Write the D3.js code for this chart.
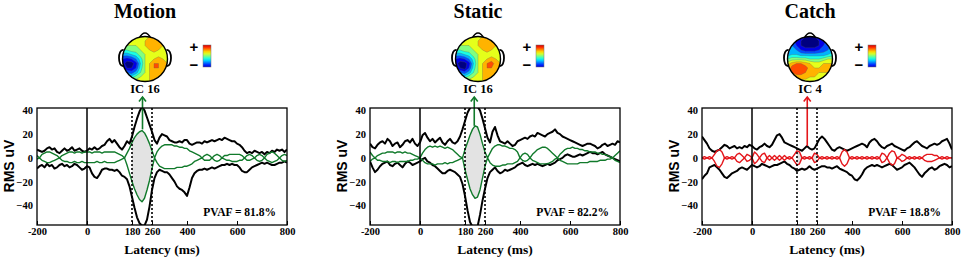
<!DOCTYPE html>
<html>
<head>
<meta charset="utf-8">
<script src="https://cdn.jsdelivr.net/npm/d3@7"></script>
<style>
  body { margin: 0; background: #fff; }
</style>
</head>
<body>
<div id="chart"></div>
<script>
// sample grid of the envelopes, ms (every 10 ms)
const latency = d3.range(-200, 801, 10);

const titles = ["Motion", "Static", "Catch"];
const icLabels = ["IC 16", "IC 16", "IC 4"];
const pvafLabels = ["PVAF = 81.8%", "PVAF = 82.2%", "PVAF = 18.8%"];
const xTicks = [-200, 0, 180, 260, 400, 600, 800];
const yTicks = [40, 20, 0, -20, -40];
const windowMs = [180, 260];
const arrowMs = [222, 217, 221];
const arrowBase = [24, 27, 10];

// data envelope (black) - rows of 100 ms
const motionUp = [
  7, 6, 5, 6, 8, 9, 7, 8, 5, 4,
  6, 8, 6, 7, 9, 6, 7, 8, 6, 5,
  6, 8, 7, 9, 7, 8, 10, 11, 14, 16,
  13, 15, 12, 9, 7, 10, 14, 12, 18, 26,
  33, 39, 43, 40, 34, 28, 22, 15, 12, 17,
  20, 19, 18, 15, 14, 13, 13, 14, 13, 15,
  15, 12, 11, 12, 13, 13, 12, 14, 13, 14,
  15, 14, 15, 16, 15, 17, 16, 15, 14, 14,
  12, 11, 9, 6, 4, 5, 4, 6, 5, 4,
  5, 3, 5, 4, 6, 5, 7, 6, 7, 5,
  7];
const motionLo = [
  -9, -7, -6, -8, -5, -7, -6, -9, -8, -6,
  -5, -7, -6, -8, -7, -5, -6, -8, -10, -9,
  -7, -8, -13, -16, -17, -14, -10, -9, -9, -10,
  -10, -11, -10, -12, -15, -16, -18, -24, -33, -42,
  -50, -55, -57, -57, -52, -41, -27, -17, -12, -10,
  -11, -12, -12, -14, -17, -20, -24, -26, -27, -29,
  -32, -25, -17, -13, -11, -10, -10, -9, -10, -9,
  -8, -9, -8, -7, -6, -6, -5, -6, -5, -6,
  -6, -8, -11, -12, -12, -10, -8, -7, -6, -5,
  -4, -5, -4, -5, -6, -6, -5, -4, -4, -3,
  -4];
// component envelope (green)
const motionCU = [
  2, 0, 3, 4, 5, 5, 4, 3, 2, 0,
  2, 3, 4, 5, 5, 4, 5, 5, 4, 5,
  5, 5, 4, 5, 5, 5, 4, 5, 5, 5,
  5, 5, 4, 3, 2, 0, 4, 8, 13, 17,
  20, 22, 23, 21, 17, 12, 6, 0, 5, 8,
  10, 11, 11, 11, 11, 10, 10, 9, 9, 8,
  8, 6, 5, 4, 3, 2, 0, 2, 3, 2,
  0, 2, 3, 2, 0, 2, 2, 3, 3, 3,
  3, 3, 2, 0, 2, 3, 2, 0, 2, 3,
  2, 0, 3, 4, 5, 4, 2, 0, 2, 3,
  2];
const motionCL = [
  -1, 0, -2, -3, -4, -4, -3, -2, -1, 0,
  -2, -3, -3, -4, -4, -3, -4, -4, -3, -4,
  -4, -4, -4, -4, -3, -4, -4, -3, -4, -4,
  -4, -4, -3, -2, -1, 0, -6, -13, -20, -26,
  -31, -35, -37, -34, -27, -19, -9, 0, -4, -7,
  -8, -9, -9, -9, -9, -9, -8, -8, -8, -7,
  -7, -6, -5, -3, -2, -1, 0, -2, -2, -2,
  0, -2, -3, -2, 0, -1, -2, -2, -3, -3,
  -3, -2, -2, 0, -2, -2, -1, 0, -2, -3,
  -2, 0, -2, -3, -4, -3, -2, 0, -2, -3,
  -2];

const staticUp = [
  12, 9, 8, 11, 13, 14, 12, 16, 14, 10,
  12, 13, 9, 11, 14, 15, 13, 16, 12, 10,
  13, 19, 21, 17, 14, 16, 13, 15, 17, 13,
  11, 14, 16, 13, 12, 14, 18, 24, 31, 38,
  42, 44, 44, 43, 40, 33, 25, 17, 13, 22,
  26, 19, 14, 13, 12, 14, 12, 10, 11, 14,
  15, 16, 17, 16, 18, 19, 18, 21, 20, 19,
  18, 20, 21, 22, 24, 21, 20, 18, 17, 16,
  15, 14, 13, 12, 11, 10, 11, 12, 12, 11,
  10, 8, 9, 11, 12, 10, 11, 12, 11, 14,
  13];
const staticLo = [
  -3, -8, -12, -10, -7, -5, -4, -3, -6, -7,
  -5, -4, -6, -8, -5, -3, -4, -6, -5, -4,
  -3, -1, 0, -3, -4, -6, -7, -9, -11, -13,
  -13, -11, -10, -11, -12, -14, -16, -22, -32, -44,
  -54, -58, -58, -58, -48, -36, -26, -17, -12, -10,
  -8, -11, -13, -12, -10, -11, -10, -9, -8, -6,
  -5, -4, -6, -7, -6, -5, -6, -5, -6, -7,
  -6, -5, -6, -5, -4, -2, -1, 0, 2, 3,
  2, 1, 1, 2, 3, 2, 3, 4, 5, 4,
  4, 3, 4, 5, 3, 2, 1, 0, -1, -2,
  -3];
const staticCU = [
  5, 2, 0, 2, 3, 4, 4, 5, 5, 5,
  4, 5, 5, 4, 5, 4, 4, 3, 2, 1,
  0, 4, 7, 9, 10, 9, 10, 9, 10, 9,
  8, 9, 8, 7, 5, 3, 1, 0, 7, 13,
  19, 24, 27, 26, 20, 12, 5, 0, 4, 8,
  10, 11, 11, 10, 10, 9, 8, 8, 7, 5,
  0, 3, 4, 3, 0, 3, 5, 7, 8, 9,
  9, 8, 6, 4, 2, 0, 3, 5, 7, 8,
  8, 9, 8, 8, 7, 7, 6, 6, 5, 5,
  5, 4, 4, 3, 3, 2, 1, 0, 2, 4,
  6];
const staticCL = [
  -3, -1, 0, -2, -2, -3, -3, -3, -4, -3,
  -3, -4, -3, -3, -3, -3, -2, -2, -1, -1,
  0, -2, -4, -5, -5, -5, -6, -5, -5, -5,
  -4, -5, -4, -4, -3, -2, -1, 0, -10, -18,
  -26, -31, -34, -33, -27, -17, -7, 0, -4, -6,
  -7, -7, -7, -6, -6, -5, -5, -5, -4, -3,
  0, -2, -3, -2, 0, -2, -3, -4, -5, -5,
  -5, -5, -4, -3, -1, 0, -2, -3, -4, -5,
  -5, -5, -5, -5, -4, -4, -4, -4, -3, -3,
  -3, -3, -2, -2, -2, -1, -1, 0, -2, -3,
  -4];

const catchUp = [
  18, 15, 12, 8, 6, 5, 6, 7, 9, 11,
  10, 8, 9, 10, 8, 9, 8, 10, 9, 11,
  10, 8, 7, 9, 10, 12, 10, 9, 11, 15,
  19, 20, 17, 13, 12, 11, 10, 9, 8, 7,
  6, 8, 10, 8, 7, 8, 12, 16, 18, 16,
  13, 10, 7, 6, 8, 9, 8, 7, 6, 7,
  8, 9, 10, 11, 12, 11, 9, 13, 15, 16,
  14, 11, 9, 8, 10, 11, 12, 10, 9, 8,
  7, 6, 8, 9, 11, 13, 14, 12, 10, 9,
  8, 10, 11, 12, 11, 12, 14, 15, 16, 12,
  7];
const catchLo = [
  -18, -15, -13, -8, -7, -6, -8, -10, -13, -16,
  -17, -15, -13, -12, -11, -9, -8, -9, -10, -8,
  -6, -7, -8, -7, -5, -6, -7, -8, -7, -6,
  -6, -5, -4, -3, -5, -6, -8, -9, -11, -10,
  -9, -10, -9, -7, -9, -10, -9, -8, -7, -7,
  -8, -8, -9, -8, -7, -9, -10, -11, -12, -14,
  -15, -18, -19, -17, -14, -10, -8, -7, -6, -7,
  -6, -7, -8, -7, -6, -5, -6, -8, -10, -9,
  -8, -6, -5, -4, -6, -8, -11, -14, -16, -13,
  -11, -9, -8, -10, -9, -7, -6, -5, -6, -8,
  -7];
// component envelope (red)
const catchCU = [
  0, 1, 0, 1, 0, 3, 6, 7, 5, 0,
  1, 0, 1, 0, 3, 4, 2, 0, 3, 2,
  0, 5, 3, 0, 3, 4, 0, 2, 0, 2,
  0, 2, 0, 2, 0, 1, 0, 3, 6, 5,
  0, 1, 0, 1, 0, 4, 3, 0, 1, 0,
  1, 0, 1, 0, 1, 0, 5, 7, 5, 0,
  1, 0, 1, 0, 1, 0, 1, 0, 1, 0,
  1, 0, 4, 3, 0, 4, 6, 5, 0, 1,
  3, 2, 0, 1, 0, 1, 0, 1, 0, 2,
  3, 3, 3, 2, 2, 0, 1, 0, 1, 0,
  0];
const catchCL = [
  0, -1, 0, -1, 0, -3, -7, -8, -5, 0,
  -1, 0, -1, 0, -3, -4, -2, 0, -3, -2,
  0, -5, -3, 0, -3, -4, 0, -2, 0, -2,
  0, -2, 0, -2, 0, -1, 0, -3, -6, -5,
  0, -1, 0, -1, 0, -4, -3, 0, -1, 0,
  -1, 0, -1, 0, -1, 0, -5, -7, -5, 0,
  -1, 0, -1, 0, -1, 0, -1, 0, -1, 0,
  -1, 0, -4, -3, 0, -4, -6, -5, 0, -1,
  -3, -2, 0, -1, 0, -1, 0, -1, 0, -2,
  -3, -3, -3, -2, -1, 0, -1, 0, -1, 0,
  0];

// scalp maps, 11x11 grid (rows front->back, cols left->right)
const motionMap = [
  [3, 3, 3, 3, 3, 3, 4, 4, 3, 3, 3],
  [2, 2, 3, 3, 3, 4, 5, 5, 5, 4, 3],
  [1, 2, 2, 2, 3, 4, 5, 6, 5, 4, 3],
  [0, 0, 1, 1, 2, 3, 4, 5, 4, 3, 3],
  [-3, -3, -2, -1, 1, 2, 3, 3, 3, 3, 3],
  [-6, -7, -6, -4, -1, 2, 3, 4, 5, 4, 3],
  [-7, -9, -9, -7, -2, 2, 4, 6, 6, 5, 4],
  [-6, -8, -8, -6, -1, 2, 4, 6, 6, 5, 4],
  [-3, -4, -5, -3, 0, 2, 4, 5, 5, 4, 4],
  [0, -1, -1, 1, 2, 3, 4, 4, 4, 4, 3],
  [2, 2, 2, 3, 3, 3, 4, 4, 3, 3, 3]];
const staticMap = [
  [3, 3, 3, 3, 3, 3, 4, 4, 4, 3, 3],
  [2, 2, 3, 3, 3, 4, 5, 5, 5, 4, 3],
  [1, 2, 2, 2, 3, 4, 5, 6, 5, 4, 3],
  [0, 0, 1, 1, 2, 3, 4, 5, 4, 3, 3],
  [-3, -3, -2, -1, 1, 2, 3, 3, 3, 3, 3],
  [-6, -7, -6, -4, -1, 2, 3, 4, 5, 4, 3],
  [-7, -9, -9, -7, -2, 2, 4, 6, 7, 5, 4],
  [-6, -8, -9, -6, -1, 2, 4, 6, 6, 5, 4],
  [-3, -4, -5, -3, 0, 2, 4, 5, 5, 4, 4],
  [0, -1, -1, 1, 2, 3, 4, 4, 4, 4, 3],
  [2, 2, 2, 3, 3, 3, 4, 4, 3, 3, 3]];
const catchMap = [
  [-3, -5, -6, -7, -8, -8, -8, -7, -6, -5, -3],
  [-3, -5, -7, -8, -9, -9, -9, -8, -7, -5, -3],
  [-3, -4, -6, -8, -9, -9, -9, -8, -6, -5, -3],
  [-3, -3, -4, -6, -7, -7, -7, -6, -5, -4, -3],
  [-3, -2, -2, -3, -3, -3, -3, -3, -3, -2, -1],
  [0, 1, 1, 1, 1, 0, 0, 0, 1, 2, 2],
  [3, 5, 6, 6, 5, 4, 3, 3, 4, 4, 4],
  [4, 7, 8, 8, 7, 5, 4, 4, 5, 5, 4],
  [4, 6, 7, 7, 6, 5, 4, 4, 4, 4, 3],
  [3, 4, 5, 5, 5, 4, 4, 3, 3, 3, 3],
  [3, 3, 3, 3, 3, 3, 3, 3, 3, 3, 3]];

const panels = [
  { up: motionUp, lo: motionLo, cu: motionCU, cl: motionCL, map: motionMap, color: "#117a2b" },
  { up: staticUp, lo: staticLo, cu: staticCU, cl: staticCL, map: staticMap, color: "#117a2b" },
  { up: catchUp, lo: catchLo, cu: catchCU, cl: catchCL, map: catchMap, color: "#e4161b" }
];

const width = 964, height = 263;
const boxLeft = [37, 370, 702];
const boxW = 250;
const boxTop = 108, boxBottom = 225;
const serif = "'Liberation Serif', 'Times New Roman', serif";
const sans = "'Liberation Sans', Arial, sans-serif";

// jet colour map, t in [0,1]
function jet(t) {
  const c = v => Math.round(255 * Math.max(0, Math.min(1, v)));
  return `rgb(${c(1.5 - Math.abs(4 * t - 3))},${c(1.5 - Math.abs(4 * t - 2))},${c(1.5 - Math.abs(4 * t - 1))})`;
}

const svg = d3.select("#chart").append("svg")
  .attr("width", width)
  .attr("height", height)
  .style("background", "#fff");

const defs = svg.append("defs");
const grad = defs.append("linearGradient").attr("id", "jetbar")
  .attr("x1", 0).attr("y1", 0).attr("x2", 0).attr("y2", 1);
d3.range(0, 1.001, 0.1).forEach(s => {
  grad.append("stop").attr("offset", s).attr("stop-color", jet(0.92 - 0.84 * s));
});

const x = d3.scaleLinear().domain([-200, 800]).range([0, boxW]);
const y = d3.scaleLinear().domain([-56.5, 42]).range([boxBottom, boxTop]);

function drawHead(g, cx, cy, r, grid, i) {
  const n = grid.length;
  const contours = d3.contours().size([n, n]).thresholds(d3.range(-10, 10, 2))(grid.flat());
  const tx = v => -1 + (2 / (n - 1)) * (v - 0.5);
  const proj = d3.geoTransform({
    point(px, py) { this.stream.point(cx + r * tx(px), cy + r * tx(py)); }
  });
  const path = d3.geoPath(proj);

  defs.append("clipPath").attr("id", "head" + i)
    .append("circle").attr("cx", cx).attr("cy", cy).attr("r", r);

  // nose and ears
  g.append("path")
    .attr("d", `M${cx - 6},${cy - r + 2} Q${cx},${cy - r - 9} ${cx + 6},${cy - r + 2}`)
    .attr("fill", "#fff").attr("stroke", "#000").attr("stroke-width", 1.5);
  [-1, 1].forEach(s => {
    g.append("path")
      .attr("d", `M${cx + s * (r - 1)},${cy - 9} C${cx + s * (r + 5)},${cy - 10} ${cx + s * (r + 5)},${cy + 8} ${cx + s * (r - 1)},${cy + 7}`)
      .attr("fill", "#fff").attr("stroke", "#000").attr("stroke-width", 1.8);
  });

  g.append("g").attr("clip-path", `url(#head${i})`)
    .selectAll("path").data(contours).join("path")
    .attr("d", path)
    .attr("fill", d => jet((d.value + 10) / 20))
    .attr("stroke", "#555").attr("stroke-width", 0.4).attr("stroke-opacity", 0.7);

  g.append("circle").attr("cx", cx).attr("cy", cy).attr("r", r)
    .attr("fill", "none").attr("stroke", "#000").attr("stroke-width", 1.4);

  // colour bar with + / -
  g.append("rect").attr("x", cx + 58).attr("y", 45).attr("width", 8).attr("height", 22)
    .attr("fill", "url(#jetbar)").attr("stroke", "#777").attr("stroke-width", 0.5);
  g.append("text").attr("x", cx + 49).attr("y", 51.5).attr("text-anchor", "middle")
    .style("font", `bold 15px ${sans}`).text("+");
  g.append("text").attr("x", cx + 49).attr("y", 70).attr("text-anchor", "middle")
    .style("font", `bold 15px ${sans}`).text("\u2212");
}

panels.forEach((p, i) => {
  const left = boxLeft[i];
  const g = svg.append("g").attr("transform", `translate(${left},0)`);
  const hx = 108;

  g.append("text").attr("x", hx).attr("y", 17.5).attr("text-anchor", "middle")
    .style("font", `bold 20px ${serif}`).text(titles[i]);

  drawHead(svg.append("g"), left + hx, 59, 22.5, p.map, i);

  g.append("text").attr("x", hx).attr("y", 93).attr("text-anchor", "middle")
    .style("font", `bold 12.5px ${serif}`).text(icLabels[i]);

  defs.append("clipPath").attr("id", "box" + i)
    .append("rect").attr("x", 0).attr("y", boxTop).attr("width", boxW).attr("height", boxBottom - boxTop);

  const plot = g.append("g").attr("clip-path", `url(#box${i})`);

  const inWin = latency.map((t, k) => k).filter(k => latency[k] >= windowMs[0] && latency[k] <= windowMs[1]);
  plot.append("path")
    .datum(inWin)
    .attr("fill", "#e3e3e3")
    .attr("d", d3.area().x(k => x(latency[k])).y0(k => y(p.cl[k])).y1(k => y(p.cu[k])));

  const line = arr => d3.line().x((d, k) => x(latency[k])).y(d => y(d))(arr);

  [p.up, p.lo].forEach(arr => {
    plot.append("path").attr("d", line(arr))
      .attr("fill", "none").attr("stroke", "#000").attr("stroke-width", 2).attr("stroke-linejoin", "round");
  });
  [p.cu, p.cl].forEach(arr => {
    plot.append("path").attr("d", line(arr))
      .attr("fill", "none").attr("stroke", p.color).attr("stroke-width", 1.4).attr("stroke-linejoin", "round");
  });

  // zero and window lines
  g.append("line").attr("x1", x(0)).attr("x2", x(0)).attr("y1", boxTop).attr("y2", boxBottom)
    .attr("stroke", "#000").attr("stroke-width", 1.5);
  windowMs.forEach(t => {
    g.append("line").attr("x1", x(t)).attr("x2", x(t)).attr("y1", boxTop).attr("y2", boxBottom)
      .attr("stroke", "#000").attr("stroke-width", 1.6).attr("stroke-dasharray", "2,2");
  });

  // arrow to scalp map
  const ax = x(arrowMs[i]);
  const top = boxTop - 11;
  g.append("line").attr("x1", ax).attr("x2", ax).attr("y1", y(arrowBase[i])).attr("y2", top)
    .attr("stroke", p.color).attr("stroke-width", 1.6);
  g.append("path").attr("d", `M${ax - 3.5},${top + 4.5} L${ax},${top} L${ax + 3.5},${top + 4.5}`)
    .attr("fill", "none").attr("stroke", p.color).attr("stroke-width", 1.6);

  g.append("rect").attr("x", 0).attr("y", boxTop).attr("width", boxW).attr("height", boxBottom - boxTop)
    .attr("fill", "none").attr("stroke", "#000").attr("stroke-width", 1.3);

  const xAxis = g.append("g").attr("transform", `translate(0,${boxBottom})`)
    .call(d3.axisBottom(x).tickValues(xTicks).tickSize(-4).tickPadding(3)
      .tickFormat(d => d < 0 ? "-" + Math.abs(d) : String(d)));
  const yAxis = g.append("g")
    .call(d3.axisLeft(y).tickValues(yTicks).tickSize(0).tickPadding(4)
      .tickFormat(d => d < 0 ? "\u2212" + Math.abs(d) : String(d)));
  [xAxis, yAxis].forEach(a => {
    a.select(".domain").remove();
    a.selectAll("text").style("font", `bold 10.5px ${serif}`).attr("fill", "#000");
    a.selectAll("line").attr("stroke", "#000");
  });

  g.append("text").attr("x", boxW / 2).attr("y", 254).attr("text-anchor", "middle")
    .style("font", `bold 13.5px ${serif}`).text("Latency (ms)");
  g.append("text").attr("transform", `translate(-23.5,166) rotate(-90)`).attr("text-anchor", "middle")
    .style("font", `bold 14px ${sans}`).text("RMS uV");
  g.append("text").attr("x", boxW - 11).attr("y", 215.5).attr("text-anchor", "end")
    .style("font", `bold 11.5px ${serif}`).text(pvafLabels[i]);
});
</script>
</body>
</html>
